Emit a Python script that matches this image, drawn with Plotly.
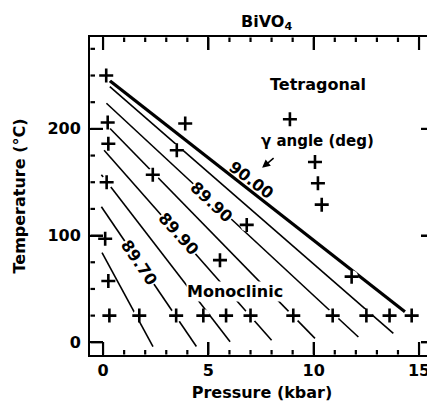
import plotly.graph_objects as go

# Data points (+ markers): pressure (kbar), temperature (°C)
pt_p = [0.15, 0.22, 3.9, 8.87, 0.25, 3.5, 10.06, 2.36, 0.17, 10.2, 10.38, 6.82,
        0.1, 5.55, 11.8, 0.25,
        0.3, 1.72, 3.47, 4.76, 5.84, 7.0, 9.03, 10.9, 12.5, 13.6, 14.65]
pt_t = [250, 206, 205, 209, 186, 180, 169, 157, 150, 149, 129, 110,
        97, 77, 61.5, 57.5,
        25, 25, 25, 25, 25, 25, 25, 25, 25, 25, 25]

# Iso-angle lines (start / end)
line_p0 = [0.32, 0.32, 0.16, 0.32, 0.05, -0.08, -0.08, -0.05]
line_t0 = [245, 239.6, 224, 200.6, 180, 157, 127, 84]
line_p1 = [14.33, 13.78, 12.12, 10.06, 8.0, 6.03, 4.43, 2.37]
line_t1 = [28.7, 8.4, 5, 3.7, 2, 0.5, -4, -4]

# Contour labels
lab_text = ["90.00", "89.90", "89.90", "89.70"]
lab_p = [7.07, 5.17, 3.56, 1.71]
lab_t = [152, 131, 101.5, 75]
lab_angle = [37, 43, 48, 56]

# Axis ticks
x_major = [0, 5, 10, 15]
x_minor = [1, 2, 3, 4, 6, 7, 8, 9, 11, 12, 13, 14]
y_major = [0, 100, 200]
y_minor = [25, 50, 75, 125, 150, 175, 225, 250, 275]

X_RANGE = [-0.62, 15.71]
Y_RANGE = [-11.9, 286.1]

FONT = "DejaVu Sans"
W, H = 427, 402
M = dict(l=82, r=1, t=29, b=55)
MAJOR_LEN = 13   # px
MINOR_LEN = 5    # px

plot_w = W - M["l"] - M["r"]
plot_h = H - M["t"] - M["b"]
ux = (X_RANGE[1] - X_RANGE[0]) / plot_w   # data units per px
uy = (Y_RANGE[1] - Y_RANGE[0]) / plot_h

fig = go.Figure()
for i in range(len(line_p0)):
    fig.add_trace(go.Scatter(
        x=[line_p0[i], line_p1[i]], y=[line_t0[i], line_t1[i]],
        mode="lines",
        line=dict(color="black", width=3.2 if i == 0 else 1.6),
        showlegend=False, hoverinfo="skip"))

# white halo beneath the plus markers
fig.add_trace(go.Scatter(x=pt_p, y=pt_t, mode="markers",
                         marker=dict(symbol="circle", size=13, color="white"),
                         showlegend=False, hoverinfo="skip"))
fig.add_trace(go.Scatter(x=pt_p, y=pt_t, mode="markers",
                         marker=dict(symbol="cross-thin", size=10,
                                     line=dict(color="black", width=2.6)),
                         showlegend=False))

# inward tick marks on all four sides (start just inside the frame)
tx, ty = [], []
for ticks, length in ((x_minor, MINOR_LEN), (x_major, MAJOR_LEN)):
    d = length * uy
    e = 0.5 * uy
    for v in ticks:
        tx += [v, v, None, v, v, None]
        ty += [Y_RANGE[0] + e, Y_RANGE[0] + d, None,
               Y_RANGE[1] - e, Y_RANGE[1] - d, None]
for ticks, length in ((y_minor, MINOR_LEN), (y_major, MAJOR_LEN)):
    d = length * ux
    e = 0.5 * ux
    for v in ticks:
        tx += [X_RANGE[0] + e, X_RANGE[0] + d, None,
               X_RANGE[1] - e, X_RANGE[1] - d, None]
        ty += [v, v, None, v, v, None]
fig.add_trace(go.Scatter(x=tx, y=ty, mode="lines", connectgaps=False,
                         line=dict(color="black", width=2.2),
                         showlegend=False, hoverinfo="skip"))

for i, txt in enumerate(lab_text):
    fig.add_annotation(x=lab_p[i], y=lab_t[i], text=txt, showarrow=False,
                       textangle=lab_angle[i],
                       bgcolor="rgba(0,0,0,0)" if i == 0 else "white",
                       borderpad=0,
                       font=dict(family=FONT, size=16, color="black", weight="bold"))

fig.add_annotation(x=10.2, y=241.2, text="Tetragonal", showarrow=False,
                   font=dict(family=FONT, size=16, color="black", weight="bold"))
fig.add_annotation(x=6.24, y=47.6, text="Monoclinic", showarrow=False,
                   bgcolor="white", borderpad=0,
                   font=dict(family=FONT, size=16, color="black", weight="bold"))
fig.add_annotation(x=10.2, y=188.3, text="γ angle (deg)", showarrow=False,
                   font=dict(family=FONT, size=15, color="black", weight="bold"))
fig.add_annotation(x=7.55, y=163.5, ax=13, ay=-11, text="", showarrow=True,
                   arrowhead=2, arrowsize=1, arrowwidth=1.6, arrowcolor="black")
fig.add_annotation(xref="paper", yref="paper", x=0.512, y=1.047,
                   text="BiVO<sub>4</sub>", showarrow=False, yanchor="middle",
                   font=dict(family=FONT, size=16, color="black", weight="bold"))

tick_font = dict(family=FONT, size=16, color="black", weight="bold")
title_font = dict(family=FONT, size=16, color="black", weight="bold")

fig.update_layout(
    width=W, height=H,
    margin=dict(**M, autoexpand=False),
    plot_bgcolor="white", paper_bgcolor="white", showlegend=False,
    xaxis=dict(range=X_RANGE, tickmode="array", tickvals=x_major,
               ticktext=[str(v) for v in x_major],
               showline=True, linewidth=2, linecolor="black", mirror="allticks",
               ticks="inside", ticklen=MAJOR_LEN, tickwidth=2, tickcolor="black",
               showgrid=False, zeroline=False, tickfont=tick_font,
               title=dict(text="Pressure (kbar)", standoff=8, font=title_font)),
    yaxis=dict(range=Y_RANGE, tickmode="array", tickvals=y_major,
               ticktext=[str(v) for v in y_major],
               showline=True, linewidth=2, linecolor="black", mirror="allticks",
               ticks="inside", ticklen=MAJOR_LEN, tickwidth=2, tickcolor="black",
               showgrid=False, zeroline=False, tickfont=tick_font,
               ticklabelstandoff=4,
               title=dict(text="Temperature (°C)", standoff=18, font=title_font)),
)

fig.write_html("out.html")
